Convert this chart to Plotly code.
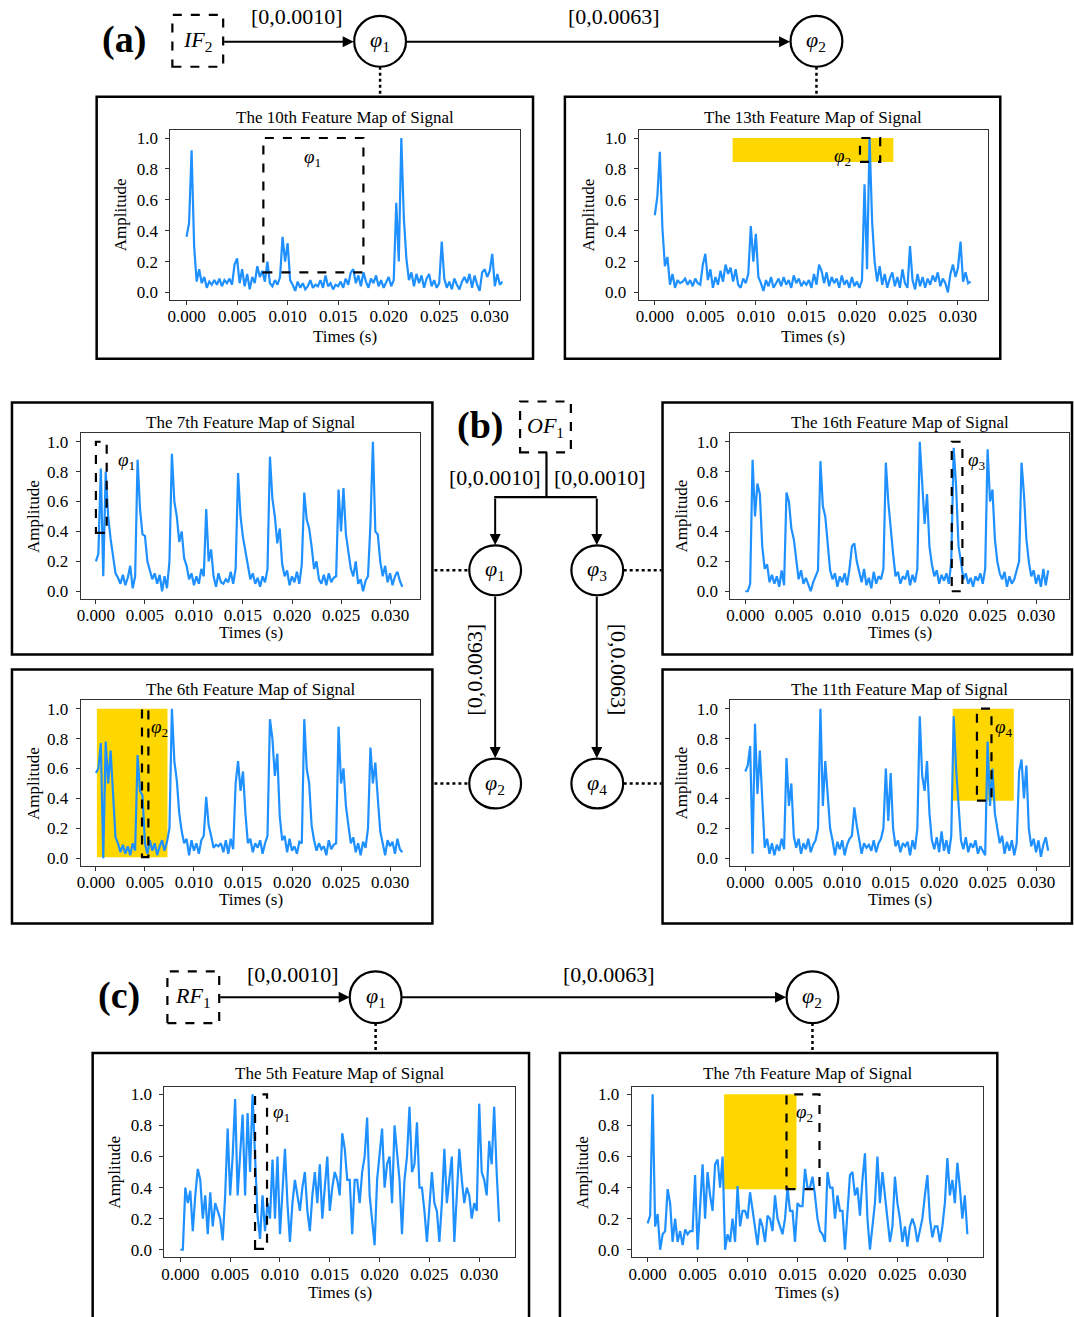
import plotly.graph_objects as go

# ---------------------------------------------------------------- data
STEP_S = 0.00025
times_ab = [round(i * STEP_S, 6) for i in range(126)]
times_c = [round(i * STEP_S, 6) for i in range(129)]

x_tick_vals = [0.000, 0.005, 0.010, 0.015, 0.020, 0.025, 0.030]
x_tick_text = ["0.000", "0.005", "0.010", "0.015", "0.020", "0.025", "0.030"]
y_tick_vals = [0.0, 0.2, 0.4, 0.6, 0.8, 1.0]
y_tick_text = ["0.0", "0.2", "0.4", "0.6", "0.8", "1.0"]

titles = [
    "The 10th Feature Map of Signal", "The 13th Feature Map of Signal",
    "The 7th Feature Map of Signal", "The 16th Feature Map of Signal",
    "The 6th Feature Map of Signal", "The 11th Feature Map of Signal",
    "The 5th Feature Map of Signal", "The 7th Feature Map of Signal",
]

# (a) IF2 - 10th feature map
amp_a_map10 = [
    0.36, 0.45, 0.92, 0.30, 0.07, 0.15, 0.06, 0.10, 0.03, 0.07,
    0.05, 0.08, 0.05, 0.09, 0.04, 0.08, 0.06, 0.09, 0.05, 0.18,
    0.22, 0.06, 0.15, 0.04, 0.12, 0.02, 0.10, 0.06, 0.17, 0.10,
    0.14, 0.07, 0.20, 0.06, 0.04, 0.08, 0.05, 0.10, 0.36, 0.20,
    0.32, 0.08, 0.05, 0.01, 0.07, 0.03, 0.06, 0.02, 0.04, 0.08,
    0.03, 0.05, 0.04, 0.08, 0.03, 0.11, 0.04, 0.06, 0.02, 0.05,
    0.04, 0.07, 0.03, 0.09, 0.05, 0.13, 0.15, 0.06, 0.11, 0.04,
    0.13, 0.07, 0.03, 0.09, 0.06, 0.11, 0.04, 0.08, 0.03, 0.07,
    0.10, 0.04, 0.08, 0.58, 0.20, 1.00, 0.48, 0.22, 0.08, 0.13,
    0.04, 0.12, 0.06, 0.11, 0.03, 0.09, 0.12, 0.04, 0.08, 0.03,
    0.06, 0.33, 0.09, 0.03, 0.07, 0.02, 0.09, 0.05, 0.02, 0.07,
    0.10, 0.06, 0.12, 0.03, 0.11, 0.05, 0.01, 0.13, 0.15, 0.10,
    0.14, 0.25, 0.04, 0.12, 0.05, 0.07,
]
# (a) IF2 - 13th feature map
amp_a_map13 = [
    0.50, 0.62, 0.91, 0.42, 0.17, 0.23, 0.05, 0.12, 0.03, 0.08,
    0.06, 0.07, 0.09, 0.05, 0.08, 0.04, 0.09, 0.06, 0.05, 0.18,
    0.25, 0.08, 0.15, 0.03, 0.10, 0.05, 0.14, 0.07, 0.18, 0.12,
    0.16, 0.07, 0.15, 0.05, 0.03, 0.09, 0.06, 0.12, 0.43, 0.20,
    0.38, 0.10, 0.06, 0.01, 0.08, 0.04, 0.10, 0.03, 0.06, 0.09,
    0.04, 0.10, 0.05, 0.08, 0.03, 0.11, 0.06, 0.09, 0.04, 0.07,
    0.05, 0.08, 0.03, 0.12, 0.05, 0.18, 0.14, 0.06, 0.13, 0.04,
    0.10, 0.06, 0.09, 0.03, 0.11, 0.05, 0.08, 0.03, 0.10, 0.04,
    0.07, 0.03, 0.08, 0.70, 0.15, 1.00, 0.46, 0.20, 0.07, 0.17,
    0.05, 0.12, 0.03, 0.09, 0.13, 0.04, 0.10, 0.03, 0.15, 0.06,
    0.03, 0.30, 0.08, 0.02, 0.12, 0.04, 0.10, 0.03, 0.09, 0.05,
    0.11, 0.07, 0.13, 0.04, 0.09, 0.06, 0.00, 0.12, 0.18, 0.10,
    0.16, 0.33, 0.07, 0.13, 0.06, 0.07,
]
# (b) OF1 - 7th feature map
amp_b_map7 = [
    0.20, 0.25, 0.82, 0.10, 0.80, 0.50, 0.35, 0.22, 0.12, 0.09,
    0.05, 0.11, 0.04, 0.09, 0.17, 0.02, 0.10, 0.88, 0.55, 0.38,
    0.37, 0.20, 0.14, 0.08, 0.12, 0.05, 0.11, 0.00, 0.10, 0.02,
    0.20, 0.92, 0.60, 0.50, 0.33, 0.40, 0.22, 0.17, 0.08, 0.12,
    0.04, 0.10, 0.05, 0.15, 0.10, 0.55, 0.20, 0.28, 0.10, 0.03,
    0.12, 0.06, 0.05, 0.08, 0.06, 0.13, 0.05, 0.15, 0.79, 0.50,
    0.36, 0.26, 0.18, 0.08, 0.12, 0.05, 0.09, 0.03, 0.10, 0.06,
    0.15, 0.90, 0.62, 0.50, 0.32, 0.42, 0.18, 0.10, 0.14, 0.04,
    0.10, 0.06, 0.13, 0.05, 0.18, 0.66, 0.48, 0.42, 0.30, 0.15,
    0.20, 0.08, 0.05, 0.11, 0.04, 0.12, 0.06, 0.09, 0.10, 0.68,
    0.40, 0.69, 0.38, 0.25, 0.15, 0.10, 0.20, 0.05, 0.08, 0.00,
    0.07, 0.10, 0.45, 1.00, 0.40, 0.38, 0.20, 0.10, 0.17, 0.06,
    0.12, 0.04, 0.10, 0.13, 0.07, 0.03,
]
# (b) OF1 - 16th feature map
amp_b_map16 = [
    0.00, 0.00, 0.05, 0.88, 0.50, 0.72, 0.65, 0.30, 0.15, 0.18,
    0.06, 0.11, 0.05, 0.10, 0.03, 0.14, 0.04, 0.66, 0.60, 0.42,
    0.35, 0.20, 0.08, 0.14, 0.05, 0.09, 0.04, 0.00, 0.06, 0.10,
    0.14, 0.87, 0.57, 0.50, 0.30, 0.14, 0.08, 0.12, 0.03, 0.10,
    0.06, 0.12, 0.04, 0.15, 0.30, 0.32, 0.20, 0.12, 0.06, 0.15,
    0.04, 0.09, 0.02, 0.13, 0.05, 0.10, 0.08, 0.15, 0.86, 0.60,
    0.40, 0.25, 0.10, 0.13, 0.05, 0.10, 0.08, 0.14, 0.04, 0.11,
    0.06, 0.15, 1.00, 0.75, 0.45, 0.65, 0.30, 0.18, 0.10, 0.14,
    0.05, 0.11, 0.07, 0.12, 0.05, 0.20, 0.96, 0.70, 0.30, 0.20,
    0.08, 0.12, 0.05, 0.09, 0.03, 0.10, 0.07, 0.12, 0.05, 0.15,
    0.95, 0.60, 0.68, 0.35, 0.20, 0.12, 0.08, 0.13, 0.03, 0.10,
    0.05, 0.08, 0.14, 0.20, 0.86, 0.65, 0.35, 0.20, 0.10, 0.14,
    0.05, 0.11, 0.03, 0.15, 0.04, 0.14,
]
# (b) OF1 - 6th feature map
amp_b_map6 = [
    0.57, 0.60, 0.77, 0.00, 0.78, 0.50, 0.72, 0.42, 0.14, 0.10,
    0.04, 0.09, 0.03, 0.08, 0.02, 0.10, 0.05, 0.69, 0.45, 0.42,
    0.10, 0.03, 0.12, 0.05, 0.10, 0.02, 0.08, 0.12, 0.05, 0.11,
    0.20, 1.00, 0.65, 0.52, 0.30, 0.18, 0.10, 0.13, 0.02, 0.12,
    0.05, 0.10, 0.03, 0.12, 0.15, 0.41, 0.22, 0.15, 0.07, 0.09,
    0.08, 0.10, 0.04, 0.12, 0.03, 0.13, 0.06, 0.50, 0.65, 0.45,
    0.58, 0.30, 0.10, 0.13, 0.04, 0.10, 0.07, 0.12, 0.03, 0.10,
    0.15, 0.93, 0.80, 0.55, 0.70, 0.28, 0.12, 0.15, 0.04, 0.13,
    0.05, 0.08, 0.03, 0.11, 0.10, 0.93, 0.60, 0.50, 0.22, 0.12,
    0.05, 0.10, 0.06, 0.08, 0.02, 0.12, 0.06, 0.09, 0.10, 0.88,
    0.50, 0.60, 0.35, 0.22, 0.10, 0.14, 0.04, 0.10, 0.02, 0.11,
    0.07, 0.20, 0.74, 0.50, 0.64, 0.40, 0.18, 0.10, 0.02, 0.12,
    0.08, 0.11, 0.03, 0.13, 0.06, 0.04,
]
# (b) OF1 - 11th feature map
amp_b_map11 = [
    0.58, 0.62, 0.75, 0.03, 0.90, 0.43, 0.72, 0.40, 0.07, 0.13,
    0.03, 0.10, 0.02, 0.09, 0.05, 0.13, 0.06, 0.67, 0.35, 0.50,
    0.15, 0.07, 0.13, 0.03, 0.10, 0.06, 0.13, 0.04, 0.09, 0.12,
    0.20, 1.00, 0.35, 0.65, 0.40, 0.20, 0.12, 0.02, 0.11, 0.06,
    0.12, 0.02, 0.09, 0.13, 0.15, 0.34, 0.22, 0.12, 0.03, 0.10,
    0.07, 0.09, 0.05, 0.12, 0.04, 0.10, 0.13, 0.20, 0.60, 0.25,
    0.57, 0.20, 0.08, 0.12, 0.04, 0.10, 0.08, 0.11, 0.02, 0.12,
    0.06, 0.20, 0.95, 0.55, 0.45, 0.65, 0.30, 0.12, 0.06, 0.14,
    0.04, 0.18, 0.05, 0.12, 0.03, 0.15, 0.95, 0.60, 0.35, 0.12,
    0.06, 0.14, 0.04, 0.10, 0.07, 0.12, 0.03, 0.08, 0.05, 0.02,
    0.78, 0.35, 0.60, 0.30, 0.20, 0.10, 0.15, 0.03, 0.11, 0.05,
    0.12, 0.02, 0.10, 0.58, 0.66, 0.40, 0.62, 0.20, 0.08, 0.13,
    0.04, 0.12, 0.01, 0.09, 0.14, 0.05,
]
# (c) RF1 - 5th feature map
amp_c_map5 = [
    0.00, 0.00, 0.40, 0.30, 0.38, 0.12, 0.35, 0.52, 0.45, 0.20,
    0.35, 0.10, 0.37, 0.15, 0.30, 0.25, 0.20, 0.06, 0.35, 0.78,
    0.35, 0.60, 0.97, 0.35, 0.60, 0.87, 0.35, 0.88, 0.50, 1.00,
    0.60, 0.22, 0.07, 0.35, 0.12, 0.30, 0.20, 0.58, 0.20, 0.60,
    0.10, 0.40, 0.65, 0.30, 0.05, 0.30, 0.45, 0.35, 0.25, 0.40,
    0.50, 0.25, 0.12, 0.35, 0.50, 0.30, 0.55, 0.20, 0.40, 0.60,
    0.25, 0.40, 0.50, 0.45, 0.35, 0.75, 0.65, 0.45, 0.45, 0.10,
    0.45, 0.45, 0.30, 0.50, 0.60, 0.85, 0.35, 0.20, 0.03, 0.45,
    0.60, 0.78, 0.40, 0.55, 0.60, 0.30, 0.80, 0.60, 0.45, 0.10,
    0.45, 0.60, 0.92, 0.50, 0.55, 0.82, 0.40, 0.40, 0.25, 0.05,
    0.30, 0.50, 0.30, 0.25, 0.05, 0.30, 0.65, 0.30, 0.45, 0.60,
    0.05, 0.40, 0.65, 0.45, 0.30, 0.40, 0.35, 0.20, 0.30, 0.25,
    0.94, 0.50, 0.45, 0.35, 0.70, 0.55, 0.92, 0.50, 0.18,
]
# (c) RF1 - 7th feature map
amp_c_map7 = [
    0.17, 0.22, 1.00, 0.15, 0.23, 0.00, 0.10, 0.12, 0.39, 0.30,
    0.05, 0.20, 0.05, 0.12, 0.03, 0.13, 0.10, 0.12, 0.12, 0.48,
    0.00, 0.30, 0.55, 0.20, 0.50, 0.35, 0.25, 0.55, 0.58, 0.40,
    0.60, 0.00, 0.10, 0.05, 0.20, 0.05, 0.41, 0.15, 0.25, 0.25,
    0.20, 0.37, 0.25, 0.15, 0.03, 0.20, 0.15, 0.05, 0.22, 0.20,
    0.12, 0.35, 0.20, 0.15, 0.10, 0.20, 0.40, 0.25, 0.25, 0.05,
    0.30, 0.28, 0.28, 0.52, 0.40, 0.40, 0.47, 0.35, 0.20, 0.12,
    0.10, 0.05, 0.50, 0.40, 0.40, 0.20, 0.35, 0.25, 0.25, 0.00,
    0.25, 0.48, 0.50, 0.35, 0.40, 0.22, 0.45, 0.62, 0.20, 0.00,
    0.15, 0.30, 0.60, 0.30, 0.50, 0.35, 0.20, 0.05, 0.15, 0.47,
    0.30, 0.20, 0.05, 0.15, 0.02, 0.15, 0.20, 0.15, 0.05, 0.12,
    0.20, 0.35, 0.48, 0.20, 0.08, 0.15, 0.15, 0.05, 0.15, 0.30,
    0.59, 0.35, 0.45, 0.30, 0.56, 0.40, 0.20, 0.35, 0.10,
]

# ---------------------------------------------------------------- layout helpers
W, H = 1074, 1317
SERIF = "Liberation Serif"
BLUE = "#1E90FF"
GOLD = "#FFD700"


def fx(px):
    return px / W


def fy(py):
    return 1 - py / H


# plot-area boxes in pixels (left, right, top, bottom) and label positions
panels = [
    dict(t=times_ab, y=amp_a_map10, box=(167, 518, 128, 299), xr=[-0.0016, 0.0330], yr=[-0.048, 1.055], ty=116, ax_=117, xy=336),
    dict(t=times_ab, y=amp_a_map13, box=(637, 988, 128, 299), xr=[-0.0016, 0.0330], yr=[-0.048, 1.055], ty=116, ax_=587, xy=336),
    dict(t=times_ab, y=amp_b_map7, box=(77, 418, 433, 599), xr=[-0.00155, 0.0331], yr=[-0.05, 1.056], ty=422, ax_=29, xy=633),
    dict(t=times_ab, y=amp_b_map16, box=(729, 1069, 433, 599), xr=[-0.00155, 0.0334], yr=[-0.05, 1.056], ty=422, ax_=680, xy=633),
    dict(t=times_ab, y=amp_b_map6, box=(77, 418, 701, 867), xr=[-0.00155, 0.0331], yr=[-0.05, 1.056], ty=690, ax_=29, xy=901),
    dict(t=times_ab, y=amp_b_map11, box=(729, 1069, 701, 867), xr=[-0.00155, 0.0334], yr=[-0.05, 1.056], ty=690, ax_=680, xy=901),
    dict(t=times_c, y=amp_c_map5, box=(161, 513, 1089, 1260), xr=[-0.0016, 0.0336], yr=[-0.048, 1.048], ty=1076, ax_=110, xy=1295),
    dict(t=times_c, y=amp_c_map7, box=(630, 983, 1089, 1260), xr=[-0.0016, 0.0336], yr=[-0.048, 1.048], ty=1076, ax_=580, xy=1295),
]

# in-plot markers (data coords): yellow regions, dashed boxes, phi labels
yellow = {1: (0.0077, 0.0236, 0.845, 1.0), 4: (0.0001, 0.0073, 0.007, 1.0),
          5: (0.0214, 0.0277, 0.385, 1.0), 7: (0.00765, 0.0149, 0.39, 1.0)}
dashed = {0: (0.0076, 0.0175, 0.13, 1.0), 1: (0.0203, 0.0223, 0.845, 1.0),
          2: (0.0, 0.0011, 0.39, 1.0), 3: (0.0213, 0.0224, 0.0, 1.0),
          4: (0.0047, 0.00535, 0.007, 1.0), 5: (0.0239, 0.0254, 0.385, 1.0),
          6: (0.0075, 0.0087, 0.006, 1.0), 7: (0.0139, 0.0172, 0.39, 1.0)}
phi_lbl = {0: (0.0125, 0.87, "1"), 1: (0.0186, 0.875, "2"), 2: (0.0031, 0.87, "1"),
           3: (0.0239, 0.87, "3"), 4: (0.0065, 0.87, "2"), 5: (0.0267, 0.87, "4"),
           6: (0.0102, 0.88, "1"), 7: (0.0157, 0.88, "2")}

fig = go.Figure()
layout = dict(width=W, height=H, autosize=False, margin=dict(l=0, r=0, t=0, b=0),
              paper_bgcolor="white", plot_bgcolor="rgba(0,0,0,0)", showlegend=False)
shapes = []
annotations = []


def ann(x, y, text, size=17, angle=0, xref="paper", yref="paper", color="black", family=SERIF, **kw):
    if xref == "paper":
        x = fx(x)
    if yref == "paper":
        y = fy(y)
    annotations.append(dict(x=x, y=y, xref=xref, yref=yref, text=text, showarrow=False,
                            textangle=angle, xanchor="center", yanchor="middle",
                            font=dict(family=family, size=size, color=color), **kw))


for i, p in enumerate(panels):
    n = "" if i == 0 else str(i + 1)
    l, r, t, b = p["box"]
    fig.add_trace(go.Scatter(x=p["t"], y=p["y"], mode="lines", xaxis="x" + n, yaxis="y" + n,
                             line=dict(color=BLUE, width=2.2), hoverinfo="skip"))
    common = dict(showline=True, mirror=True, linecolor="#333", linewidth=1, ticks="outside",
                  ticklen=4, tickwidth=1, tickcolor="#333", showgrid=False, zeroline=False,
                  tickfont=dict(family=SERIF, size=17, color="black"), fixedrange=True)
    layout["xaxis" + n] = dict(domain=[fx(l), fx(r)], range=p["xr"], anchor="y" + n,
                               tickvals=x_tick_vals, ticktext=x_tick_text,
                               ticklabelstandoff=-3, **common)
    layout["yaxis" + n] = dict(domain=[fy(b), fy(t)], range=p["yr"], anchor="x" + n,
                               tickvals=y_tick_vals, ticktext=y_tick_text,
                               ticklabelstandoff=4, **common)
    ann((l + r) / 2, p["ty"], titles[i], size=17)
    ann(p["ax_"], (t + b) / 2, "Amplitude", size=17, angle=-90)
    ann((l + r) / 2, p["xy"], "Times (s)", size=17)
    if i in yellow:
        x0, x1, y0, y1 = yellow[i]
        shapes.append(dict(type="rect", xref="x" + n, yref="y" + n, x0=x0, x1=x1, y0=y0, y1=y1,
                           fillcolor=GOLD, line=dict(width=0), layer="below"))
    x0, x1, y0, y1 = dashed[i]
    shapes.append(dict(type="rect", xref="x" + n, yref="y" + n, x0=x0, x1=x1, y0=y0, y1=y1,
                       line=dict(color="black", width=2.2, dash="dash"), layer="above"))
    px_, py_, sub = phi_lbl[i]
    ann(px_, py_, "<i>φ</i><sub>" + sub + "</sub>", size=19, xref="x" + n, yref="y" + n)

# outer frames around each feature-map plot
frames = [(93, 95, 531, 358), (563, 95, 1000, 358), (8, 402, 430, 655), (661, 402, 1072, 655),
          (8, 670, 430, 925), (661, 670, 1072, 925), (89, 1055, 527, 1340), (558, 1055, 997, 1340)]
for (x0, y0, x1, y1) in frames:
    shapes.append(dict(type="rect", xref="paper", yref="paper", x0=fx(x0), x1=fx(x1),
                       y0=fy(y1), y1=fy(y0), line=dict(color="black", width=2.5)))


def pline(x0, y0, x1, y1, dash="solid", width=2.2):
    shapes.append(dict(type="line", xref="paper", yref="paper", x0=fx(x0), y0=fy(y0),
                       x1=fx(x1), y1=fy(y1), line=dict(color="black", width=width, dash=dash)))


def circle(cx, cy, rx, ry, label):
    shapes.append(dict(type="circle", xref="paper", yref="paper", x0=fx(cx - rx), x1=fx(cx + rx),
                       y0=fy(cy + ry), y1=fy(cy - ry), line=dict(color="black", width=2.2),
                       fillcolor="white"))
    ann(cx, cy, "<i>φ</i><sub>" + label + "</sub>", size=22)


def dbox(x0, y0, x1, y1, label):
    shapes.append(dict(type="rect", xref="paper", yref="paper", x0=fx(x0), x1=fx(x1),
                       y0=fy(y1), y1=fy(y0), line=dict(color="black", width=2.2, dash="dash")))
    ann((x0 + x1) / 2, (y0 + y1) / 2, label, size=22)


def arrow(x0, y0, x1, y1):
    annotations.append(dict(x=fx(x1), y=fy(y1), xref="paper", yref="paper", text="",
                            showarrow=True, ax=x0 - x1, ay=y0 - y1, axref="pixel", ayref="pixel",
                            arrowhead=2, arrowsize=1.1, arrowwidth=2, arrowcolor="black", standoff=0))


# ---- (a)
ann(120, 38, "<b>(a)</b>", size=38)
dbox(169, 13, 220, 65, "<i>IF</i><sub>2</sub>")
arrow(220, 40, 351, 40)
arrow(404, 40, 789, 40)
circle(377.5, 39.5, 26, 25.5, "1")
circle(815.5, 39.5, 26, 25.5, "2")
ann(294, 15, "[0,0.0010]", size=22)
ann(612, 15, "[0,0.0063]", size=22)
pline(377.5, 65, 377.5, 95, dash="dot", width=2.5)
pline(815.5, 65, 815.5, 95, dash="dot", width=2.5)

# ---- (b)
ann(478, 425, "<b>(b)</b>", size=38)
dbox(518, 401, 569, 452, "<i>OF</i><sub>1</sub>")
pline(544.5, 452, 544.5, 497)
pline(492, 497, 595, 497)
arrow(493, 497, 493, 545)
arrow(595, 497, 595, 545)
arrow(493, 596, 493, 759)
arrow(595, 596, 595, 759)
circle(493, 570.5, 26, 25, "1")
circle(595.5, 570.5, 26, 25, "3")
circle(493, 784.5, 26, 25, "2")
circle(595.5, 784.5, 26, 25, "4")
ann(493, 477, "[0,0.0010]", size=22)
ann(598, 477, "[0,0.0010]", size=22)
ann(472, 670, "[0,0.0063]", size=22, angle=-90)
ann(617, 670, "[0,0.0063]", size=22, angle=90)
pline(432, 570.5, 467, 570.5, dash="dot", width=2.5)
pline(622, 570.5, 660, 570.5, dash="dot", width=2.5)
pline(432, 784.5, 467, 784.5, dash="dot", width=2.5)
pline(622, 784.5, 660, 784.5, dash="dot", width=2.5)

# ---- (c)
ann(115, 997, "<b>(c)</b>", size=38)
dbox(164, 973, 216, 1025, "<i>RF</i><sub>1</sub>")
arrow(216, 999, 347, 999)
arrow(399, 999, 785, 999)
circle(373, 999, 26, 26, "1")
circle(811.5, 999, 26, 26, "2")
ann(290, 976, "[0,0.0010]", size=22)
ann(607, 976, "[0,0.0063]", size=22)
pline(373, 1025, 373, 1055, dash="dot", width=2.5)
pline(811.5, 1025, 811.5, 1055, dash="dot", width=2.5)

layout["shapes"] = shapes
layout["annotations"] = annotations
fig.update_layout(**layout)
fig.write_html("out.html", config={"displayModeBar": False})
